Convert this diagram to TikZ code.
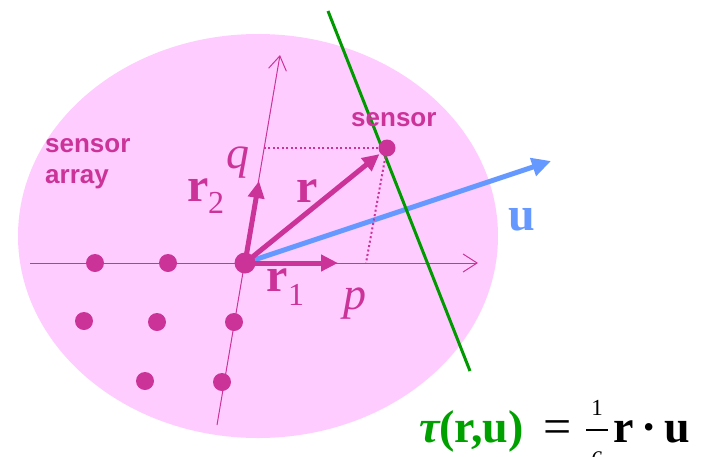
\documentclass[tikz,border=0pt]{standalone}
\usepackage{fontspec}
\setmainfont{Liberation Serif}
\setsansfont{Liberation Sans}
\usetikzlibrary{arrows.meta}
\definecolor{pinkfill}{HTML}{FFCCFF}
\definecolor{mag}{HTML}{CC3399}
\definecolor{ublue}{HTML}{6699FF}
\definecolor{lgreen}{HTML}{009900}
\definecolor{tgreen}{HTML}{00A000}
\begin{document}
\begin{tikzpicture}[x=1pt,y=-1pt,
  dot/.style={circle, fill=mag, inner sep=0pt, minimum size=18pt},
  axisline/.style={draw=mag, line width=1pt, -{Straight Barb[length=14pt,width=18pt]}},
  vec/.style={draw=mag, line width=5pt, -{Triangle[length=17pt,width=16pt]}},
  uvec/.style={draw=ublue, line width=5pt, -{Triangle[length=19pt,width=18pt]}},
  proj/.style={draw=mag, line width=2pt, dash pattern=on 2pt off 2.5pt},
  boldlbl/.style={inner sep=0pt, anchor=base west, text=mag, font=\fontsize{48}{48}\selectfont\bfseries},
  itlbl/.style={inner sep=0pt, anchor=base west, text=mag, font=\fontsize{46}{46}\selectfont\itshape},
  sublbl/.style={inner sep=0pt, anchor=base west, text=mag, font=\fontsize{32}{32}\selectfont},
  sanslbl/.style={inner sep=0pt, anchor=base west, text=mag, font=\fontsize{26}{26}\selectfont\sffamily\bfseries},
  eqtxt/.style={inner sep=0pt, anchor=base west, font=\fontsize{46}{46}\selectfont\bfseries}
]
\useasboundingbox (0,0) rectangle (710,456);
% array region
\fill[pinkfill] (258,236) ellipse [x radius=240, y radius=202];

% axes
\coordinate (hstart) at (30,263);
\coordinate (hend) at (478,263);
\coordinate (vstart) at (217,425);
\coordinate (vend) at (280,55);
\draw[axisline] (hstart) -- (hend);
\draw[axisline] (vstart) -- (vend);

% origin
\coordinate (O) at (245,263);

% direction u
\coordinate (utip) at (551,161);
\draw[uvec] (O) -- (utip);

% wavefront
\coordinate (gtop) at (328,11);
\coordinate (gbot) at (470,371);
\draw[lgreen, line width=3pt] (gtop) -- (gbot);

% projections
\coordinate (qpt) at (262,148);
\coordinate (ppt) at (366,263);
\node[dot, minimum size=17pt] (S) at (387,148) {};
\draw[proj] (S) -- (qpt);
\draw[proj] (S) -- (ppt);

% vectors
\coordinate (r1tip) at (338,263);
\coordinate (r2tip) at (259,181);
\draw[vec] (O) -- (r1tip);
\draw[vec] (O) -- (r2tip);
\draw[vec, shorten >=1pt] (O) -- (S);

% sensors
\node[dot] (d1) at (95,263) {};
\node[dot] (d2) at (168,263) {};
\node[dot, minimum size=21pt] (d0) at (O) {};
\node[dot] (d3) at (84,321) {};
\node[dot] (d4) at (157,322) {};
\node[dot] (d5) at (234,322) {};
\node[dot] (d6) at (145,381) {};
\node[dot] (d7) at (222,382) {};

% labels
\node[itlbl] (lq) at (226,168) {q};
\node[itlbl] (lp) at (343,309) {p};
\node[boldlbl] (lr) at (296,202) {r};
\node[boldlbl] (lr2) at (187,201) {r};
\node[sublbl] (lr2s) at (208,213) {2};
\node[boldlbl] (lr1) at (266,291) {r};
\node[sublbl] (lr1s) at (288,305) {1};
\node[boldlbl, text=ublue] (lu) at (508,230) {u};
\node[sanslbl] (ls) at (351,126) {sensor};
\node[sanslbl] (la1) at (45,152) {sensor};
\node[sanslbl] (la2) at (45,183) {array};

% formula
\node[eqtxt, text=tgreen] (eq1) at (419,442) {\itshape τ\upshape(r,u)};
\node[eqtxt, font=\fontsize{50}{50}\selectfont] (eq2) at (543,443) {=};
\node[inner sep=0pt, anchor=base, font=\fontsize{23}{23}\selectfont] (num) at (597,415) {1};
\coordinate (barl) at (586,430);
\coordinate (barr) at (608,430);
\draw[line width=1.8pt] (barl) -- (barr);
\node[inner sep=0pt, anchor=base, font=\fontsize{23}{23}\selectfont\itshape] (den) at (597,462) {c};
\node[eqtxt] (eq3) at (613,442) {r\,·\,u};
\end{tikzpicture}
\end{document}
